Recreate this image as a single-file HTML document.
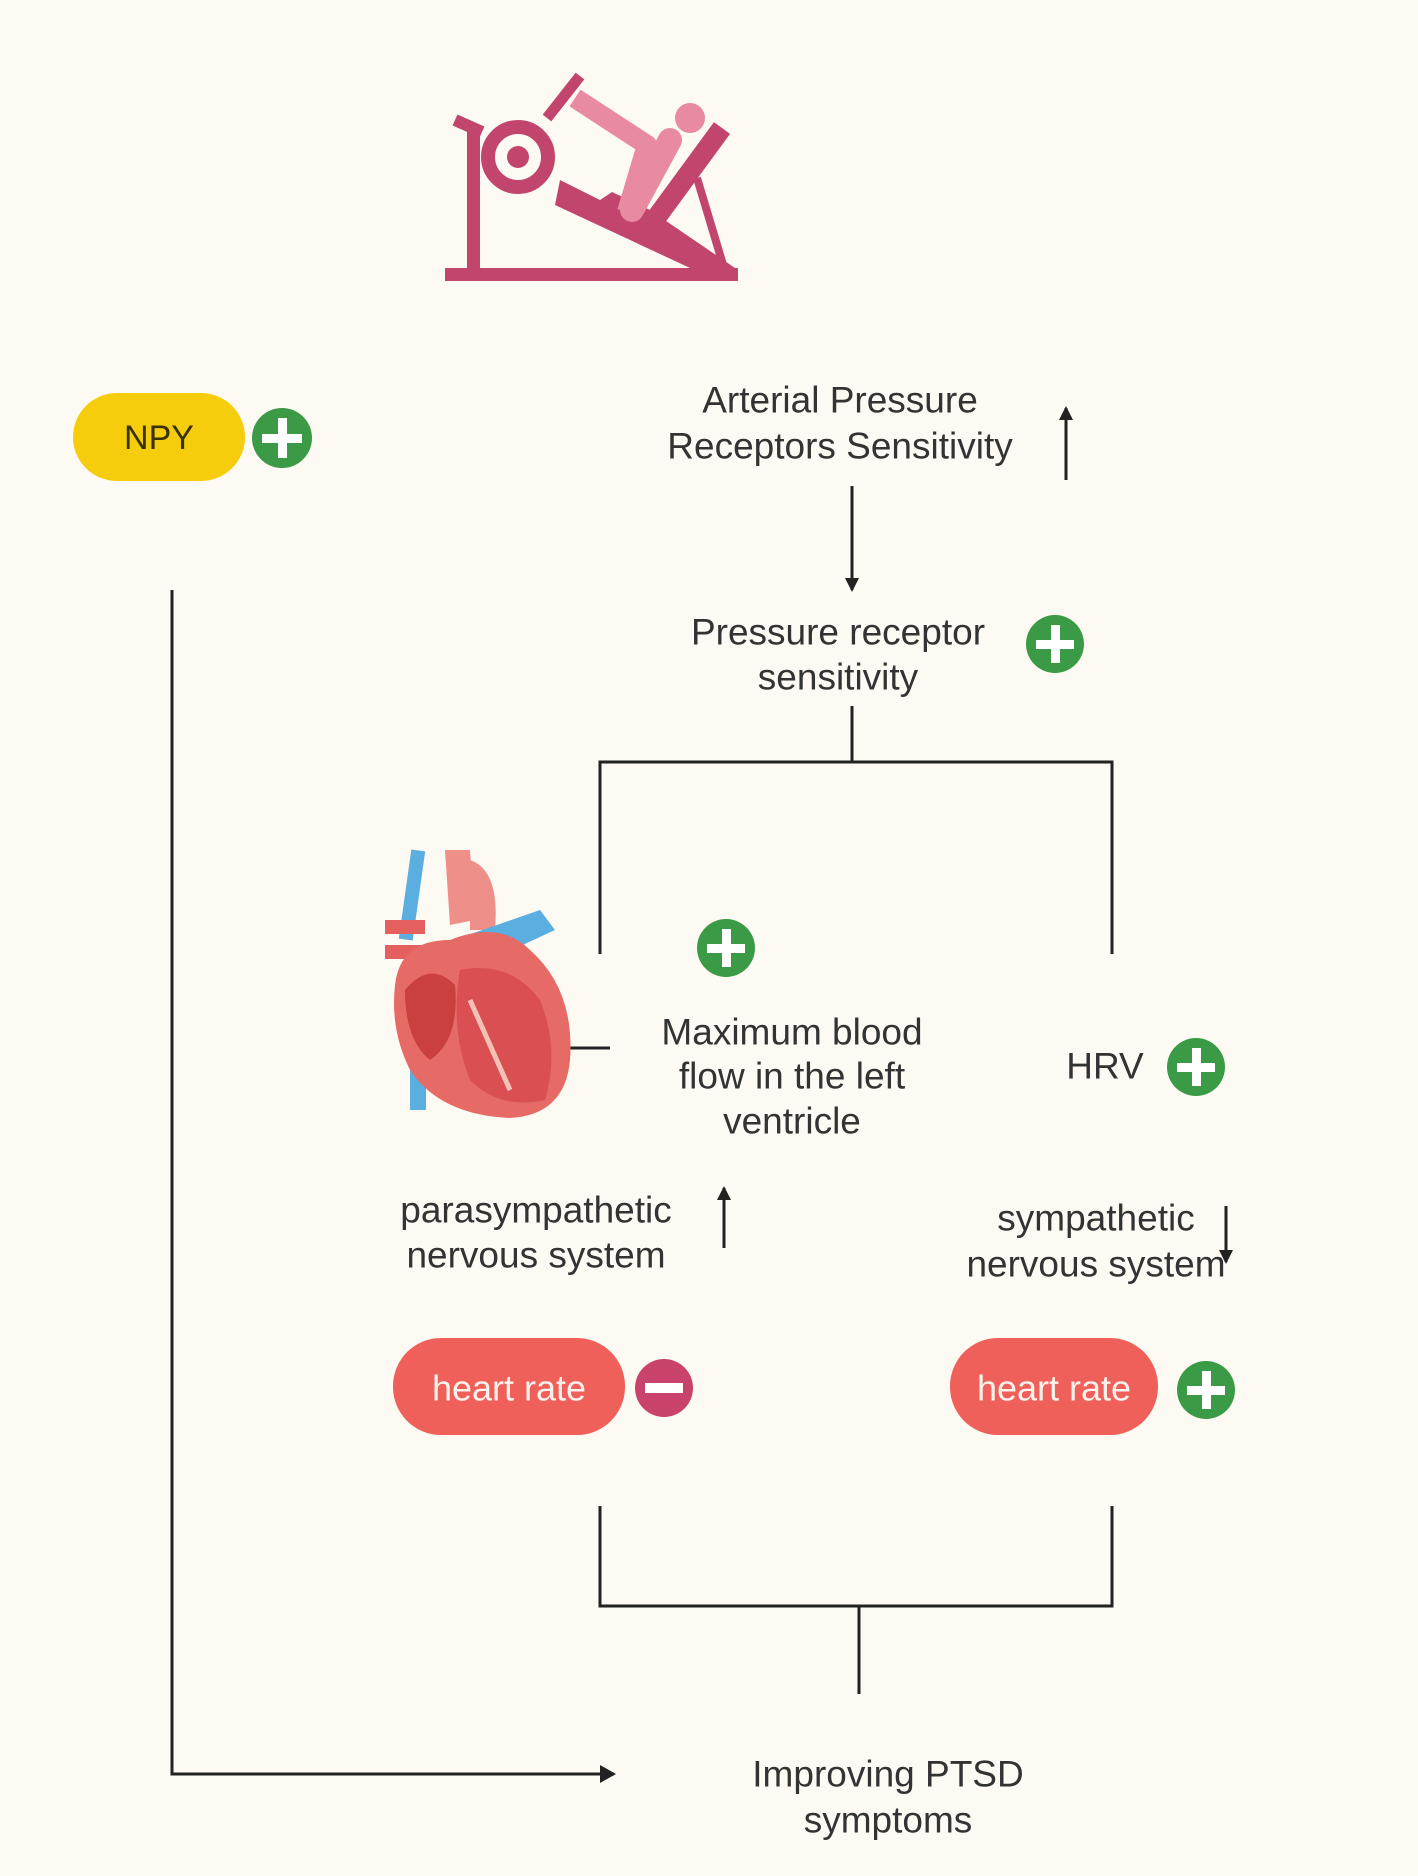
<!DOCTYPE html>
<html><head><meta charset="utf-8"><style>
html,body{margin:0;padding:0;background:#fcfaf2}
svg{display:block}
text{font-family:"Liberation Sans",sans-serif;fill:#333}
</style></head><body>
<svg width="1418" height="1876" viewBox="0 0 1418 1876" xmlns="http://www.w3.org/2000/svg">
<rect x="0" y="0" width="1418" height="1876" fill="#fcfaf2"/>
<defs>
<marker id="ah" markerWidth="14" markerHeight="16" refX="12" refY="8" orient="auto" markerUnits="userSpaceOnUse"><path d="M0,1 L14,8 L0,15 z" fill="#222"/></marker>
<marker id="ahs" markerWidth="16" markerHeight="18" refX="14" refY="9" orient="auto" markerUnits="userSpaceOnUse"><path d="M0,0 L16,9 L0,18 z" fill="#222"/></marker>
</defs>

<!-- machine icon -->
<g stroke-linecap="butt">
<rect x="445" y="268" width="293" height="13" fill="#c2456e"/>
<rect x="467" y="125" width="13" height="145" fill="#c2456e"/>
<line x1="455" y1="120" x2="482" y2="132" stroke="#c2456e" stroke-width="12"/>
<line x1="547" y1="118" x2="580" y2="76" stroke="#c2456e" stroke-width="11"/>
<polygon points="560,180 600,200 612,192 650,210 735,268 690,268 555,205" fill="#c2456e"/>
<line x1="722" y1="128" x2="640" y2="240" stroke="#c2456e" stroke-width="20"/>
<line x1="697" y1="178" x2="724" y2="268" stroke="#c2456e" stroke-width="8"/>
<circle cx="518" cy="157" r="30" fill="none" stroke="#c2456e" stroke-width="14"/>
<circle cx="518" cy="157" r="11" fill="#c2456e"/>
<circle cx="690" cy="118" r="15" fill="#e88aa0"/>
<polyline points="575,98 647,145 627,212" fill="none" stroke="#e88aa0" stroke-width="20" stroke-linejoin="round"/>
<line x1="632" y1="210" x2="670" y2="140" stroke="#e88aa0" stroke-width="24" stroke-linecap="round"/>
</g>

<!-- NPY -->
<rect x="73" y="393" width="172" height="88" rx="44" fill="#f6cd0c"/>
<text x="159" y="438" font-size="34" text-anchor="middle" dominant-baseline="central" style="fill:#3a3206">NPY</text>
<g>
<circle cx="282" cy="438" r="30" fill="#3a9a45"/>
<rect x="262" y="434" width="40" height="9" fill="#fff"/><rect x="278" y="418" width="9" height="40" fill="#fff"/>
</g>

<g font-size="37" text-anchor="middle" dominant-baseline="central">
<text x="840" y="400">Arterial Pressure</text>
<text x="840" y="446">Receptors Sensitivity</text>
<text x="838" y="632">Pressure receptor</text>
<text x="838" y="677">sensitivity</text>
<text x="792" y="1032">Maximum blood</text>
<text x="792" y="1076">flow in the left</text>
<text x="792" y="1121">ventricle</text>
<text x="1105" y="1066">HRV</text>
<text x="536" y="1210">parasympathetic</text>
<text x="536" y="1255">nervous system</text>
<text x="1096" y="1218">sympathetic</text>
<text x="1096" y="1264">nervous system</text>
<text x="888" y="1774">Improving PTSD</text>
<text x="888" y="1820">symptoms</text>
</g>

<g stroke="#222" stroke-width="3" fill="none">
<line x1="1066" y1="480" x2="1066" y2="408" marker-end="url(#ah)"/>
<line x1="852" y1="486" x2="852" y2="590" marker-end="url(#ah)"/>
<line x1="852" y1="706" x2="852" y2="762"/>
<polyline points="600,954 600,762 1112,762 1112,954"/>
<line x1="510" y1="1048" x2="610" y2="1048"/>
<line x1="724" y1="1248" x2="724" y2="1188" marker-end="url(#ah)"/>
<line x1="1226" y1="1206" x2="1226" y2="1262" marker-end="url(#ah)"/>
<polyline points="600,1506 600,1606 1112,1606 1112,1506"/>
<line x1="859" y1="1606" x2="859" y2="1694"/>
<polyline points="172,590 172,1774 614,1774" marker-end="url(#ahs)"/>
</g>

<g>
<circle cx="1055" cy="644" r="29" fill="#3a9a45"/><rect x="1036" y="640" width="38" height="9" fill="#fff"/><rect x="1051" y="625" width="9" height="38" fill="#fff"/>
<circle cx="726" cy="948" r="29" fill="#3a9a45"/><rect x="707" y="944" width="38" height="9" fill="#fff"/><rect x="722" y="929" width="9" height="38" fill="#fff"/>
<circle cx="1196" cy="1067" r="29" fill="#3a9a45"/><rect x="1177" y="1063" width="38" height="9" fill="#fff"/><rect x="1192" y="1048" width="9" height="38" fill="#fff"/>
<circle cx="1206" cy="1390" r="29" fill="#3a9a45"/><rect x="1187" y="1386" width="38" height="9" fill="#fff"/><rect x="1202" y="1371" width="9" height="38" fill="#fff"/>
</g>

<rect x="393" y="1338" width="232" height="97" rx="48" fill="#f0605a"/>
<text x="509" y="1388" font-size="36" text-anchor="middle" dominant-baseline="central" style="fill:#fdf1ec">heart rate</text>
<circle cx="664" cy="1388" r="29" fill="#c8426a"/><rect x="645" y="1383" width="38" height="10" fill="#fff"/>
<rect x="950" y="1338" width="208" height="97" rx="48" fill="#f0605a"/>
<text x="1054" y="1388" font-size="36" text-anchor="middle" dominant-baseline="central" style="fill:#fdf1ec">heart rate</text>

<g>
<rect x="405" y="850" width="14" height="90" fill="#5aaee0" transform="rotate(8 412 895)"/>
<rect x="410" y="1050" width="16" height="60" fill="#5aaee0"/>
<path d="M445,850 L470,850 L475,920 L450,925 z" fill="#ef8f8a"/>
<path d="M470,860 Q500,870 495,930 L470,930 z" fill="#ef8f8a"/>
<rect x="385" y="920" width="40" height="14" fill="#e3605e"/>
<rect x="385" y="945" width="40" height="14" fill="#e3605e"/>
<path d="M468,935 L540,910 L555,930 L490,960 z" fill="#5aaee0"/>
<path d="M395,985 Q400,940 450,940 Q500,920 530,950 Q575,990 570,1060 Q565,1115 510,1118 Q440,1115 410,1070 Q390,1030 395,985 z" fill="#e66a66"/>
<path d="M460,970 Q510,960 540,1000 Q560,1050 545,1100 Q500,1110 470,1080 Q450,1030 460,970 z" fill="#d94f52"/>
<path d="M405,990 Q430,960 455,985 Q460,1040 430,1060 Q405,1040 405,990 z" fill="#c9403f"/>
<path d="M470,1000 L510,1090" stroke="#f4c2b5" stroke-width="5"/>
</g>
</svg>
</body></html>
